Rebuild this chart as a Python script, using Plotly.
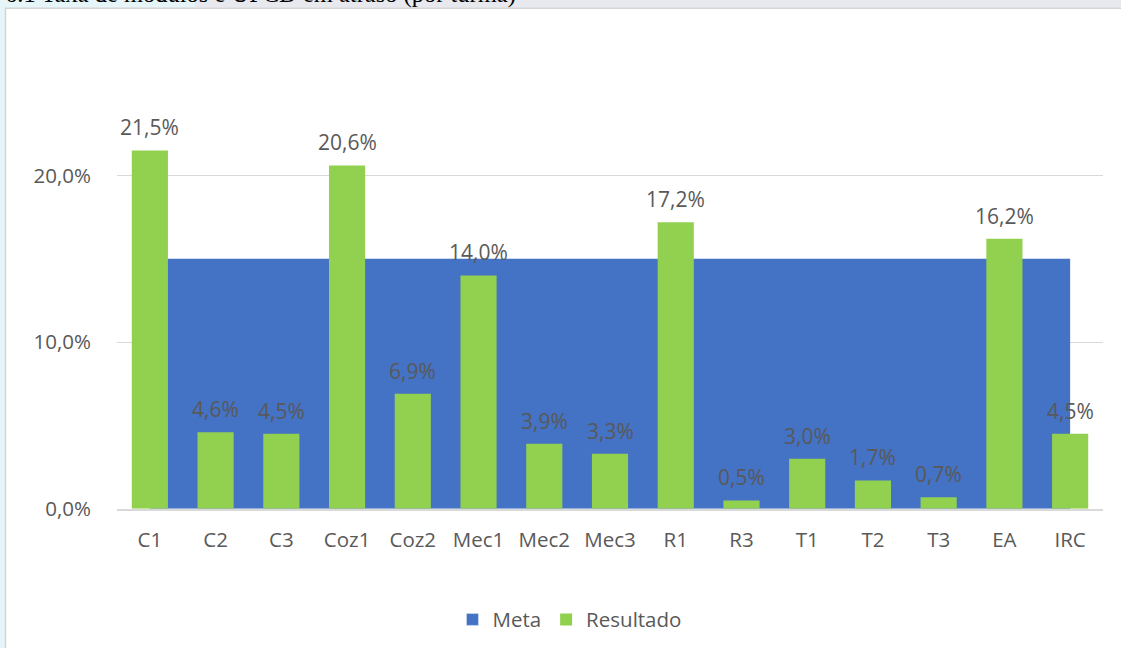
import plotly.graph_objects as go

categories = ["C1", "C2", "C3", "Coz1", "Coz2", "Mec1", "Mec2", "Mec3", "R1", "R3", "T1", "T2", "T3", "EA", "IRC"]
resultado = [0.215, 0.046, 0.045, 0.206, 0.069, 0.140, 0.039, 0.033, 0.172, 0.005, 0.030, 0.017, 0.007, 0.162, 0.045]
meta = [0.15] * len(categories)
y_ticks = [0.0, 0.10, 0.20]
title_text = "6.1 Taxa de módulos e UFCD em atraso (por turma)"

W, H = 1121, 661
BLUE = "#4472C4"
GREEN = "#92D050"
TXT = "#595959"
FONT = "Open Sans"
FS = 20.5

fig = go.Figure()

# Meta area on the base axes
fig.add_trace(go.Scatter(
    x=categories, y=meta, name="Meta", mode="lines",
    line=dict(width=0, color=BLUE), fill="tozeroy", fillcolor=BLUE,
    hoverinfo="skip", showlegend=False, xaxis="x", yaxis="y",
))
# Legend proxy for Meta (square marker)
fig.add_trace(go.Bar(
    x=[None], y=[None], name="Meta", marker_color=BLUE, xaxis="x2", yaxis="y2",
))
# Resultado bars on overlay axes (drawn above area)
fig.add_trace(go.Bar(
    x=categories, y=resultado, name="Resultado", marker=dict(color=GREEN, line_width=0),
    width=0.55, xaxis="x2", yaxis="y2",
))

annotations = []
for c, v in zip(categories, resultado):
    annotations.append(dict(
        x=c, y=v, xref="x2", yref="y2", text=f"{v*100:.1f}%".replace(".", ","),
        showarrow=False, yanchor="bottom", yshift=7,
        font=dict(family=FONT, size=21, color=TXT),
    ))

annotations.append(dict(
    x=4 / W, y=1 - 9 / H, xref="paper", yref="paper", xanchor="left", yanchor="bottom",
    text=title_text, showarrow=False, borderpad=0,
    font=dict(family="Liberation Serif", size=24.5, color="#000000"),
))

shapes = [
    dict(type="rect", xref="paper", yref="paper", x0=0, x1=1, y0=1 - 8 / H, y1=1,
         fillcolor="#E8E9EF", line_width=0, layer="below"),
    dict(type="rect", xref="paper", yref="paper", x0=0, x1=195 / W, y0=1 - 8 / H, y1=1,
         fillcolor="#E6F5F7", line_width=0, layer="below"),
    dict(type="rect", xref="paper", yref="paper", x0=0, x1=5 / W, y0=0, y1=1,
         fillcolor="#E6F5F7", line_width=0, layer="below"),
    dict(type="line", xref="paper", yref="paper", x0=5.5 / W, x1=5.5 / W, y0=0, y1=1 - 8 / H,
         line=dict(color="#D4D4D4", width=1.5), layer="below"),
    dict(type="line", xref="paper", yref="paper", x0=5.5 / W, x1=1, y0=1 - 8.5 / H, y1=1 - 8.5 / H,
         line=dict(color="#D4D4D4", width=1.5), layer="below"),
]

xdom = [117 / W, 1103 / W]
ydom = [142 / H, 567 / H]
yrange = [0, 0.25]

fig.update_layout(
    autosize=True, margin=dict(l=0, r=0, t=0, b=0),
    paper_bgcolor="white", plot_bgcolor="rgba(0,0,0,0)",
    separators=",.",
    barmode="overlay",
    font=dict(family=FONT, size=FS, color=TXT),
    xaxis=dict(domain=xdom, type="category", categoryorder="array", categoryarray=categories,
               range=[-0.5, len(categories) - 0.5], showgrid=False, showline=True,
               linecolor="#D9D9D9", linewidth=1.5, ticks="", ticklabelstandoff=12,
               tickfont=dict(family=FONT, size=FS, color=TXT), zeroline=False),
    yaxis=dict(domain=ydom, range=yrange, tickvals=y_ticks, tickformat=".1%",
               showgrid=True, gridcolor="#D9D9D9", gridwidth=1.3, zeroline=False,
               showline=False, ticks="", ticklabelstandoff=25,
               tickfont=dict(family=FONT, size=FS, color=TXT)),
    xaxis2=dict(domain=xdom, overlaying="x", type="category", categoryorder="array",
                categoryarray=categories, range=[-0.5, len(categories) - 0.5],
                showgrid=False, showticklabels=False, showline=False, zeroline=False),
    yaxis2=dict(domain=ydom, overlaying="y", range=yrange, showgrid=False,
                showticklabels=False, showline=False, zeroline=False),
    legend=dict(orientation="h", x=0.508, xanchor="center", y=(661 - 632) / H, yanchor="middle",
                font=dict(family=FONT, size=FS, color=TXT), itemwidth=30,
                traceorder="normal", bgcolor="rgba(0,0,0,0)"),
    annotations=annotations,
    shapes=shapes,
)

fig.write_html(
    "out.html",
    default_width="100vw",
    default_height="100vh",
    config={"displayModeBar": False, "responsive": True},
    post_script=(
        "document.body.style.margin='0';document.body.style.overflow='hidden';"
        "Plotly.Plots.resize(document.getElementById('{plot_id}'));"
    ),
)
